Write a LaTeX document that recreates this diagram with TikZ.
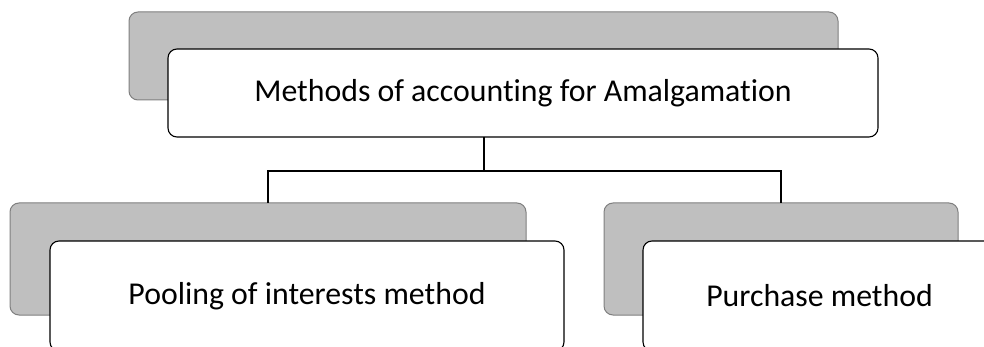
\documentclass[tikz,border=0pt]{standalone}
\usepackage{fontspec}
\setmainfont{Carlito}[Ligatures=NoCommon]
\usetikzlibrary{calc}
\definecolor{backfill}{HTML}{BFBFBF}
\definecolor{backline}{HTML}{7F7F7F}
\begin{document}
\begin{tikzpicture}[x=1pt,y=-1pt,
  card/.style={rectangle, rounded corners=9pt, inner sep=0pt, outer sep=0pt},
  backcard/.style={card, fill=backfill, draw=backline, line width=1pt},
  frontcard/.style={card, fill=white, draw=black, line width=1.1pt,
    font=\fontsize{31.8}{38}\selectfont},
  link/.style={draw=black, line width=2pt}]
\useasboundingbox (0,0) rectangle (984,347);
\clip (0,0) rectangle (984,347);

% root card pair
\node[backcard, minimum width=709pt, minimum height=88pt] (topg) at (483.5,56) {};
\node[frontcard, minimum width=710pt, minimum height=88pt] (topw) at (523,93)
  {Methods of accounting for Amalgamation};

% child card pairs
\node[backcard, minimum width=516pt, minimum height=112pt] (leftg) at (268,259) {};
\node[frontcard, minimum width=514pt, minimum height=110pt] (leftw) at (307,296)
  {Pooling of interests method};

\node[backcard, minimum width=354pt, minimum height=112pt] (rightg) at (781,259) {};
\node[frontcard, minimum width=353pt, minimum height=110pt] (rightw) at (819.5,296)
  {Purchase method};

% tree connectors
\coordinate (root) at (topw.south -| topg.south);
\coordinate (bus) at ($(root)+(0,34)$);
\draw[link] (root) -- (bus);
\draw[link] (bus) -| (leftg.north);
\draw[link] (bus) -| (rightg.north);
\end{tikzpicture}
\end{document}
